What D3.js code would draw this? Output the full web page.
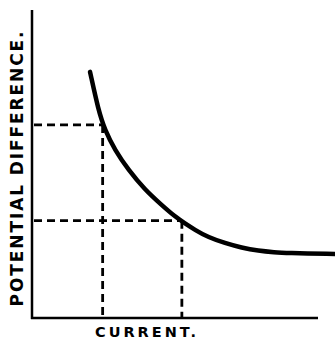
<!DOCTYPE html>
<html>
<head>
<meta charset="utf-8">
<script src="https://cdn.jsdelivr.net/npm/d3@7"></script>
<style>
  html, body { margin: 0; padding: 0; background: #fff; }
  svg { display: block; }
</style>
</head>
<body>
<svg id="chart" width="335" height="341"></svg>
<script>
// Characteristic curve: potential difference falling as current rises
const current = [2.03, 2.32, 2.55, 2.90, 3.37, 3.95, 4.53, 5.00, 5.35, 5.70, 6.16, 6.75, 7.33, 7.91, 8.50, 8.85, 10.59];
const potential = [7.99, 6.75, 6.10, 5.45, 4.81, 4.16, 3.67, 3.29, 3.07, 2.86, 2.62, 2.43, 2.28, 2.18, 2.13, 2.11, 2.08];
// Two marked operating points on the curve
const markedCurrent = [2.47, 5.24];
const markedPotential = [6.27, 3.16];
const xLabel = "CURRENT.";
const yLabel = "POTENTIAL DIFFERENCE.";

const svg = d3.select("#chart");
const x = d3.scaleLinear().domain([0, 10]).range([32, 318]);
const y = d3.scaleLinear().domain([0, 10]).range([318, 10]);

const ink = "#000";

// axes
svg.append("line")
  .attr("x1", x(0)).attr("x2", x(0))
  .attr("y1", y(0) + 1).attr("y2", y(10))
  .attr("stroke", ink).attr("stroke-width", 2.5);
svg.append("line")
  .attr("x1", x(0) - 1).attr("x2", x(10))
  .attr("y1", y(0)).attr("y2", y(0))
  .attr("stroke", ink).attr("stroke-width", 2.5);

// dashed projection lines
const marks = markedCurrent.map((c, i) => ({ c, p: markedPotential[i] }));
const guides = svg.append("g")
  .attr("stroke", ink).attr("stroke-width", 2.8)
  .attr("stroke-dasharray", "8,5");
guides.selectAll("line.h").data(marks).join("line")
  .attr("class", "h")
  .attr("x1", x(0) + 2).attr("x2", d => x(d.c))
  .attr("y1", d => y(d.p)).attr("y2", d => y(d.p));
guides.selectAll("line.v").data(marks).join("line")
  .attr("class", "v")
  .attr("x1", d => x(d.c)).attr("x2", d => x(d.c))
  .attr("y1", d => y(d.p)).attr("y2", y(0) - 1);

// the curve
const pts = current.map((c, i) => [c, potential[i]]);
const line = d3.line()
  .x(d => x(d[0])).y(d => y(d[1]))
  .curve(d3.curveBasis);
svg.append("path")
  .attr("d", line(pts))
  .attr("fill", "none")
  .attr("stroke", ink)
  .attr("stroke-width", 4.5)
  .attr("stroke-linecap", "round");

// labels
svg.append("text")
  .attr("x", 147).attr("y", 337)
  .attr("text-anchor", "middle")
  .attr("font-family", "DejaVu Sans, sans-serif")
  .attr("font-weight", "bold")
  .attr("font-size", 14.5)
  .attr("letter-spacing", 3)
  .attr("fill", ink)
  .text(xLabel);

svg.append("text")
  .attr("transform", "translate(23,168) rotate(-90)")
  .attr("text-anchor", "middle")
  .attr("font-family", "DejaVu Sans, sans-serif")
  .attr("font-weight", "bold")
  .attr("font-size", 17)
  .attr("letter-spacing", 1.9)
  .attr("fill", ink)
  .text(yLabel);
</script>
</body>
</html>
